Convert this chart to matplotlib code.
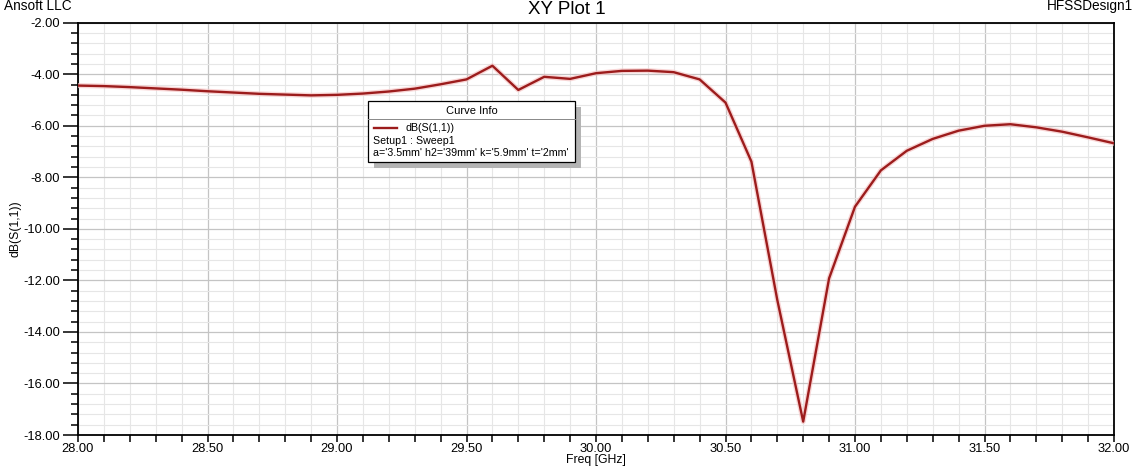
import matplotlib
matplotlib.use("Agg")
import matplotlib.pyplot as plt
from matplotlib.ticker import MultipleLocator, FormatStrFormatter
from matplotlib.patches import Rectangle
from matplotlib.lines import Line2D

plt.rcParams['font.family'] = ['Liberation Sans', 'DejaVu Sans']

freq_ghz = [28.0, 28.1, 28.2, 28.3, 28.4, 28.5, 28.6, 28.7, 28.8, 28.9,
            29.0, 29.1, 29.2, 29.3, 29.4, 29.5, 29.6, 29.7, 29.8, 29.9,
            30.0, 30.1, 30.2, 30.3, 30.4, 30.5, 30.6, 30.7, 30.8, 30.9,
            31.0, 31.1, 31.2, 31.3, 31.4, 31.5, 31.6, 31.7, 31.8, 31.9, 32.0]
s11_db = [-4.44, -4.46, -4.50, -4.55, -4.60, -4.66, -4.71, -4.76, -4.79, -4.82,
          -4.80, -4.75, -4.67, -4.56, -4.39, -4.20, -3.67, -4.61, -4.10, -4.18,
          -3.96, -3.87, -3.86, -3.92, -4.20, -5.10, -7.39, -12.76, -17.48, -11.92,
          -9.14, -7.73, -6.97, -6.51, -6.19, -6.00, -5.94, -6.06, -6.23, -6.45, -6.68]

title = "XY Plot 1"
company = "Ansoft LLC"
design = "HFSSDesign1"
xlabel = "Freq [GHz]"
ylabel = "dB(S(1,1))"
legend_title = "Curve Info"
legend_lines = ["dB(S(1,1))", "Setup1 : Sweep1", "a='3.5mm' h2='39mm' k='5.9mm' t='2mm'"]

W, H = 1139, 466
fig = plt.figure(figsize=(W / 100, H / 100), dpi=100)
ax = fig.add_axes([78 / W, 1 - 435 / H, (1114 - 78) / W, (435 - 22.7) / H])

line_color = '#9c1c1c'
ax.plot(freq_ghz, s11_db, color='#f6c4c4', lw=3.6, alpha=0.7, solid_joinstyle='round', zorder=3)
ax.plot(freq_ghz, s11_db, color=line_color, lw=1.7, solid_joinstyle='round', zorder=4)

ax.set_xlim(28.0, 32.0)
ax.set_ylim(-18.0, -2.0)
ax.xaxis.set_major_locator(MultipleLocator(0.5))
ax.xaxis.set_minor_locator(MultipleLocator(0.1))
ax.yaxis.set_major_locator(MultipleLocator(2.0))
ax.yaxis.set_minor_locator(MultipleLocator(0.4))
ax.xaxis.set_major_formatter(FormatStrFormatter('%.2f'))
ax.yaxis.set_major_formatter(FormatStrFormatter('%.2f'))

ax.grid(which='major', color='#c4c4c4', lw=0.9)
ax.grid(which='minor', color='#e6e6e6', lw=0.8)
ax.set_axisbelow(True)

for s in ax.spines.values():
    s.set_color('black')
    s.set_linewidth(1.3)

ax.tick_params(axis='y', which='major', direction='out', length=11, width=1.1, labelsize=9.3, pad=2)
ax.tick_params(axis='y', which='minor', direction='out', length=5, width=1.1)
ax.tick_params(axis='x', which='major', direction='out', length=5, width=1.1, labelsize=9.3, pad=1)
ax.tick_params(axis='x', which='minor', direction='out', length=5, width=1.1)

ax.set_xlabel(xlabel, fontsize=8.8, labelpad=-1)
ax.set_ylabel(ylabel, fontsize=8.8, labelpad=1)

fig.text(567 / W, 1 - 9 / H, title, ha='center', va='center', fontsize=13.5)
fig.text(4 / W, 1 - 6 / H, company, ha='left', va='center', fontsize=9.8)
fig.text(1133 / W, 1 - 6 / H, design, ha='right', va='center', fontsize=9.8)

# Curve info box (axes fraction)
x0, x1 = (368 - 78) / 1036, (575 - 78) / 1036
def yf(py):
    return 1 - (py - 22.7) / 412.3
y_top, y_bot = yf(101), yf(162)
shadow = Rectangle((x0 + 6 / 1036, y_bot - 6 / 412.3), x1 - x0, y_top - y_bot,
                   transform=ax.transAxes, facecolor='#b4b4b4', edgecolor='none', zorder=5)
box = Rectangle((x0, y_bot), x1 - x0, y_top - y_bot, transform=ax.transAxes,
                facecolor='white', edgecolor='black', lw=0.9, zorder=6)
ax.add_patch(shadow)
ax.add_patch(box)
ax.add_line(Line2D([x0, x1], [yf(119), yf(119)], transform=ax.transAxes, color='#888888', lw=0.7, zorder=7))
ax.text((x0 + x1) / 2, yf(110.5), legend_title, transform=ax.transAxes, ha='center', va='center',
        fontsize=8, zorder=8)
ax.add_line(Line2D([(374 - 78) / 1036, (397 - 78) / 1036], [yf(128), yf(128)], transform=ax.transAxes,
                   color=line_color, lw=1.7, zorder=8))
ax.text((405 - 78) / 1036, yf(128), legend_lines[0], transform=ax.transAxes, ha='left', va='center',
        fontsize=7.7, zorder=8)
ax.text((373 - 78) / 1036, yf(141), legend_lines[1], transform=ax.transAxes, ha='left', va='center',
        fontsize=7.7, zorder=8)
ax.text((373 - 78) / 1036, yf(153.5), legend_lines[2], transform=ax.transAxes, ha='left', va='center',
        fontsize=7.7, zorder=8)

fig.savefig('out.png', dpi=100)
